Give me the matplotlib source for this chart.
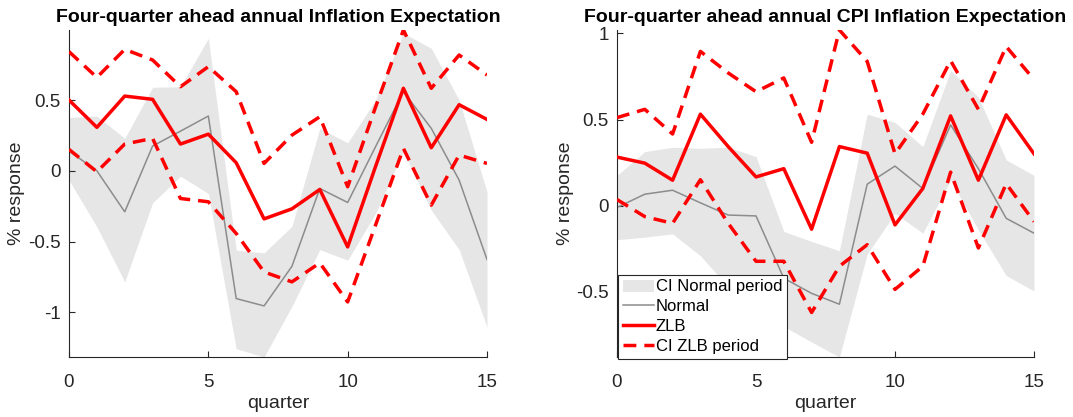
import numpy as np
import matplotlib
matplotlib.use("Agg")
import matplotlib.pyplot as plt
from matplotlib.patches import Patch
from matplotlib.lines import Line2D
from matplotlib.transforms import blended_transform_factory, ScaledTranslation

plt.rcParams['font.family'] = ['Liberation Sans', 'DejaVu Sans']

quarters = np.arange(16)

# Panel 1: four-quarter ahead annual inflation expectation
inf_normal = [0.14, 0.00, -0.29, 0.175, 0.28, 0.387, -0.903, -0.955, -0.675, -0.125,
              -0.224, 0.17, 0.559, 0.30, -0.066, -0.627]
inf_normal_lo = [-0.066, -0.396, -0.785, -0.226, -0.038, -0.16, -1.257, -1.316, -0.958, -0.557,
                 -0.632, -0.30, 0.134, -0.278, -0.557, -1.104]
inf_normal_hi = [0.377, 0.387, 0.229, 0.59, 0.594, 0.936, -0.561, -0.58, -0.392, 0.30,
                 0.198, 0.50, 0.972, 0.866, 0.50, -0.149]
inf_zlb = [0.50, 0.307, 0.528, 0.505, 0.189, 0.259, 0.057, -0.34, -0.269, -0.132,
           -0.538, 0.03, 0.583, 0.163, 0.467, 0.363]
inf_zlb_lo = [0.151, -0.007, 0.189, 0.229, -0.196, -0.219, -0.443, -0.715, -0.785, -0.651,
              -0.927, -0.384, 0.158, -0.243, 0.111, 0.052]
inf_zlb_hi = [0.842, 0.66, 0.858, 0.783, 0.594, 0.736, 0.559, 0.052, 0.252, 0.382,
              -0.113, 0.45, 0.995, 0.583, 0.818, 0.677]

# Panel 2: four-quarter ahead annual CPI inflation expectation
cpi_normal = [-0.01, 0.067, 0.09, 0.017, -0.054, -0.059, -0.42, -0.508, -0.571, 0.125,
              0.23, 0.10, 0.469, 0.215, -0.073, -0.159]
cpi_normal_lo = [-0.197, -0.182, -0.163, -0.29, -0.47, -0.58, -0.70, -0.79, -0.877, -0.28,
                 -0.044, -0.159, 0.148, -0.14, -0.405, -0.494]
cpi_normal_hi = [0.176, 0.314, 0.339, 0.333, 0.339, 0.285, -0.149, -0.207, -0.261, 0.531,
                 0.483, 0.343, 0.784, 0.63, 0.266, 0.176]
cpi_zlb = [0.282, 0.247, 0.148, 0.531, 0.343, 0.167, 0.215, -0.136, 0.343, 0.305,
           -0.111, 0.10, 0.521, 0.148, 0.527, 0.301]
cpi_zlb_lo = [0.036, -0.063, -0.102, 0.151, -0.102, -0.322, -0.322, -0.619, -0.351, -0.226,
              -0.485, -0.351, 0.195, -0.245, 0.128, -0.092]
cpi_zlb_hi = [0.511, 0.559, 0.416, 0.895, 0.77, 0.661, 0.741, 0.368, 1.019, 0.837,
              0.301, 0.531, 0.841, 0.559, 0.923, 0.732]

titles = ["Four-quarter ahead annual Inflation Expectation",
          "Four-quarter ahead annual CPI Inflation Expectation"]
yticks = [[-1, -0.5, 0, 0.5], [-0.5, 0, 0.5, 1]]
xticks = [0, 5, 10, 15]

band_color = "#e6e6e6"
normal_color = "#8c8c8c"
zlb_color = "#ff0000"
axis_color = "#262626"

W, H = 1073, 417
fig = plt.figure(figsize=(W / 100, H / 100), dpi=100)

panels = [
    (inf_normal, inf_normal_lo, inf_normal_hi, inf_zlb, inf_zlb_lo, inf_zlb_hi),
    (cpi_normal, cpi_normal_lo, cpi_normal_hi, cpi_zlb, cpi_zlb_lo, cpi_zlb_hi),
]
rects = [(69, 30, 487, 357), (617, 30, 1034, 357)]

axes = []
for i, (normal, nlo, nhi, zlb, zlo, zhi) in enumerate(panels):
    x0, y0, x1, y1 = rects[i]
    ax = fig.add_axes([x0 / W, 1 - y1 / H, (x1 - x0) / W, (y1 - y0) / H])
    axes.append(ax)

    ax.fill_between(quarters, nlo, nhi, color=band_color, linewidth=0, zorder=1)
    ax.plot(quarters, normal, color=normal_color, linewidth=1.1, zorder=2)
    ax.plot(quarters, zlb, color=zlb_color, linewidth=2.5, zorder=3)
    for series in (zlo, zhi):
        ax.plot(quarters, series, color=zlb_color, linewidth=2.5,
                linestyle=(0, (3.7, 2.3)), zorder=3)

    lo = min(min(nlo), min(zlo))
    hi = max(max(nhi), max(zhi))
    ax.set_xlim(0, 15)
    ax.set_ylim(lo, hi)
    ax.set_xticks(xticks)
    ax.set_xticklabels([str(t) for t in xticks])
    ax.set_yticks(yticks[i])
    ax.set_yticklabels([("%g" % t) for t in yticks[i]])

    for side in ("top", "right"):
        ax.spines[side].set_visible(False)
    for side in ("left", "bottom"):
        ax.spines[side].set_color(axis_color)
        ax.spines[side].set_linewidth(0.8)
    ax.tick_params(direction="in", length=4, width=0.8, colors=axis_color,
                   labelsize=13.5)
    ax.tick_params(axis="x", pad=12)
    ax.tick_params(axis="y", pad=6)

    ax.set_xlabel("quarter", fontsize=14, color=axis_color, labelpad=3)
    ax.set_ylabel("% response", fontsize=14, color=axis_color)
    # y label centred about 52 px left of the axis line
    ylab_tr = blended_transform_factory(ax.transAxes, ax.transAxes) + \
        ScaledTranslation(-0.52, 0, fig.dpi_scale_trans)
    ax.yaxis.set_label_coords(0, 0.5, transform=ylab_tr)
    ax.yaxis.label.set_verticalalignment("center")
    ax.set_title(titles[i], fontsize=14, fontweight="bold", color="black", pad=6)

handles = [
    Patch(facecolor=band_color, edgecolor="none"),
    Line2D([], [], color=normal_color, linewidth=1.1),
    Line2D([], [], color=zlb_color, linewidth=2.5),
    Line2D([], [], color=zlb_color, linewidth=2.5, linestyle=(0, (3.7, 2.3))),
]
labels = ["CI Normal period", "Normal", "ZLB", "CI ZLB period"]
leg = axes[1].legend(handles, labels, loc="lower left",
                     bbox_to_anchor=(618 / W, 1 - 358.5 / H), bbox_transform=fig.transFigure,
                     fontsize=12, frameon=True, fancybox=False, borderpad=0.3,
                     labelspacing=0.28, handlelength=1.85, handletextpad=0.1,
                     borderaxespad=0, framealpha=1)
leg.get_frame().set_edgecolor(axis_color)
leg.get_frame().set_linewidth(0.8)
leg.set_zorder(5)

fig.savefig("out.png", dpi=100)
